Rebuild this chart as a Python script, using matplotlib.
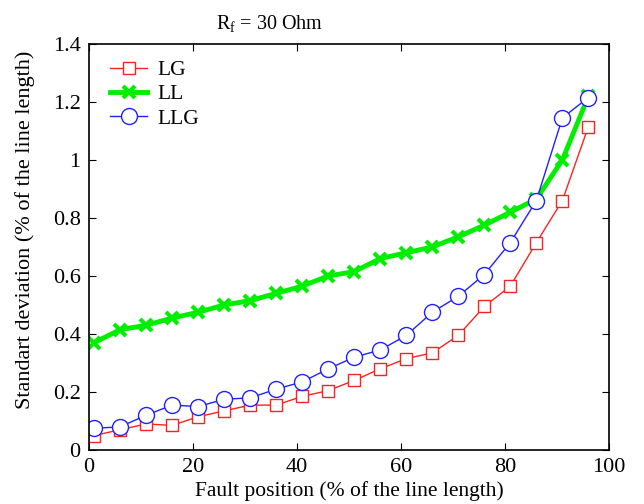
import numpy as np
import matplotlib
matplotlib.use('Agg')
import matplotlib.pyplot as plt

plt.rcParams['font.family'] = 'Liberation Serif'
plt.rcParams['mathtext.fontset'] = 'custom'
plt.rcParams['mathtext.rm'] = 'Liberation Serif'

# fault positions (% of line length)
pos = [1, 6, 11, 16, 21, 26, 31, 36, 41, 46, 51, 56, 61, 66, 71, 76, 81, 86, 91, 96]
lg = [0.05, 0.07, 0.09, 0.085, 0.115, 0.135, 0.155, 0.155, 0.185, 0.205,
      0.24, 0.28, 0.315, 0.335, 0.395, 0.495, 0.565, 0.715, 0.86, 1.115]
ll = [0.37, 0.415, 0.43, 0.455, 0.475, 0.50, 0.515, 0.54, 0.565, 0.60,
      0.615, 0.66, 0.68, 0.70, 0.735, 0.775, 0.82, 0.865, 1.0, 1.22]
llg = [0.075, 0.08, 0.12, 0.155, 0.15, 0.175, 0.18, 0.21, 0.235, 0.28,
       0.32, 0.345, 0.395, 0.475, 0.53, 0.605, 0.715, 0.86, 1.145, 1.215]

fig = plt.figure(figsize=(6.44, 5.04), dpi=100)
ax = fig.add_axes([0.138, 0.107, 0.808, 0.806])

ax.plot(pos, lg, color='#ff2020', marker='s', ms=8.5, mfc='white', mec='#ff2020', lw=1, label='LG')
ax.plot(pos, ll, color='#00ee00', marker='x', ms=9, mew=3, lw=3.5, label='LL')
ax.plot(pos, llg, color='#2020ff', marker='o', ms=11.5, mfc='white', mec='#2020ff', lw=1, label='LLG')

ax.set_xlim(0, 100)
ax.set_ylim(0, 1.4)
ax.set_xticks([0, 20, 40, 60, 80, 100])
ax.set_yticks([0, 0.2, 0.4, 0.6, 0.8, 1, 1.2, 1.4])
ax.set_yticklabels(['0', '0.2', '0.4', '0.6', '0.8', '1', '1.2', '1.4'])
ax.tick_params(direction='in', top=True, right=True, labelsize=16, length=5)
ax.tick_params(axis='x', pad=6)
ax.tick_params(axis='y', pad=6)
for s in ax.spines.values():
    s.set_linewidth(1.2)

ax.set_xlabel('Fault position (% of the line length)', fontsize=15.5, labelpad=3)
ax.set_ylabel('Standart deviation (% of the line length)', fontsize=16)
ax.yaxis.set_label_coords(-0.104, 0.542)
fig.text(0.419, 1 - 24 / 504, r'$\mathregular{R_f}$ = 30 Ohm', fontsize=14.5,
         ha='center', va='center')

ax.legend(loc='upper left', frameon=False, fontsize=15.5, handlelength=1.7,
          handletextpad=0.5, borderaxespad=0.35, labelspacing=0.2,
          bbox_to_anchor=(0.01, 1.0))

fig.savefig('out.png', dpi=100)
